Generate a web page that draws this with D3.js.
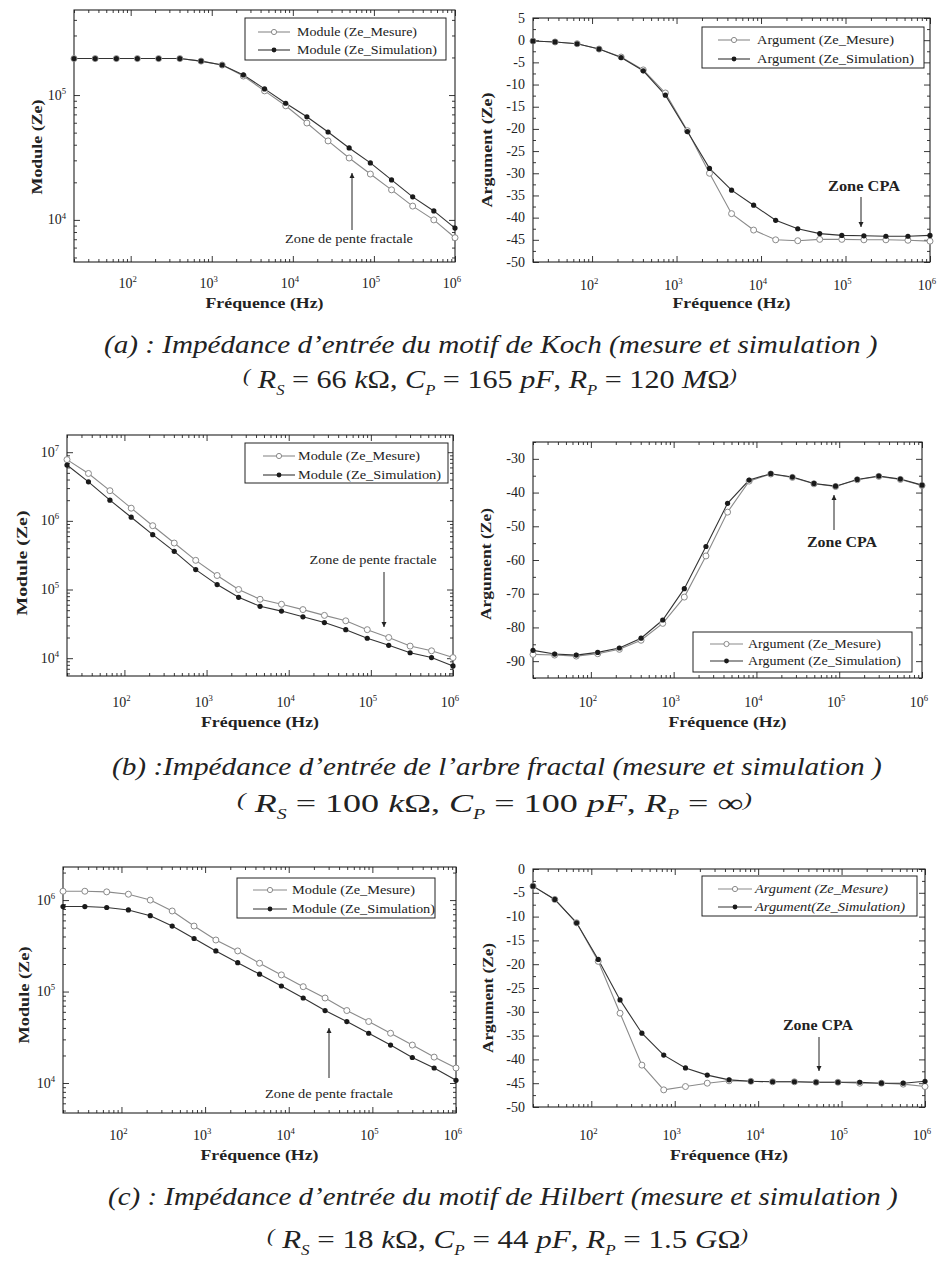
<!DOCTYPE html>
<html><head><meta charset="utf-8">
<script src="https://cdn.jsdelivr.net/npm/d3@7"></script>
<style>
html,body{margin:0;padding:0;background:#fff;}
svg{display:block;}
text{font-family:"Liberation Serif","Times New Roman",Times,serif;fill:#222;}
</style></head><body>
<svg id="fig" width="943" height="1262"></svg>
<script>
// ---------------- data ----------------
const frequency = [20, 36.5, 66.6, 121, 221, 404, 738, 1345, 2455, 4480, 8170, 14900, 27200, 49500, 90400, 165000, 300600, 548000, 1000000];

const kochModuleMesure     = [1.96e5, 1.96e5, 1.96e5, 1.96e5, 1.96e5, 1.96e5, 1.87e5, 1.74e5, 1.42e5, 1.08e5, 8.2e4, 5.97e4, 4.29e4, 3.13e4, 2.33e4, 1.74e4, 1.29e4, 1.0e4, 7.2e3];
const kochModuleSimulation = [1.96e5, 1.96e5, 1.96e5, 1.96e5, 1.96e5, 1.96e5, 1.87e5, 1.74e5, 1.45e5, 1.12e5, 8.6e4, 6.7e4, 5.06e4, 3.77e4, 2.86e4, 2.09e4, 1.53e4, 1.18e4, 8.6e3];
const kochArgumentMesure     = [-0.2, -0.4, -0.8, -2.0, -3.8, -6.7, -11.9, -20.4, -30.0, -39.1, -42.8, -45.0, -45.2, -44.9, -44.9, -45.0, -45.0, -45.1, -45.3];
const kochArgumentSimulation = [-0.2, -0.4, -0.8, -2.0, -3.9, -6.9, -12.4, -20.6, -28.9, -33.8, -37.2, -40.6, -42.5, -43.6, -44.0, -44.1, -44.2, -44.2, -44.0];

const arbreModuleMesure     = [7.8e6, 4.9e6, 2.75e6, 1.53e6, 8.5e5, 4.75e5, 2.66e5, 1.6e5, 1.0e5, 7.2e4, 6.1e4, 5.1e4, 4.2e4, 3.5e4, 2.6e4, 2.0e4, 1.5e4, 1.28e4, 1.02e4];
const arbreModuleSimulation = [6.5e6, 3.7e6, 2.0e6, 1.13e6, 6.3e5, 3.6e5, 1.95e5, 1.18e5, 7.7e4, 5.7e4, 4.85e4, 4.0e4, 3.3e4, 2.6e4, 1.95e4, 1.54e4, 1.2e4, 1.02e4, 7.7e3];
const arbreArgumentMesure     = [-88.0, -88.2, -88.5, -87.8, -86.5, -83.8, -78.8, -71.0, -58.8, -45.8, -36.6, -34.5, -35.5, -37.4, -38.2, -36.2, -35.2, -36.1, -37.9];
const arbreArgumentSimulation = [-86.8, -87.9, -88.2, -87.4, -86.1, -83.2, -77.8, -68.5, -56.0, -43.2, -36.3, -34.4, -35.4, -37.3, -38.1, -36.1, -35.1, -36.0, -37.8];

const hilbertModuleMesure     = [1.25e6, 1.25e6, 1.23e6, 1.16e6, 1.0e6, 7.6e5, 5.2e5, 3.66e5, 2.78e5, 2.04e5, 1.52e5, 1.13e5, 8.5e4, 6.2e4, 4.7e4, 3.5e4, 2.6e4, 1.92e4, 1.46e4];
const hilbertModuleSimulation = [8.5e5, 8.5e5, 8.3e5, 7.8e5, 6.75e5, 5.2e5, 3.8e5, 2.78e5, 2.07e5, 1.55e5, 1.15e5, 8.5e4, 6.2e4, 4.7e4, 3.5e4, 2.6e4, 1.9e4, 1.46e4, 1.07e4];
const hilbertArgumentMesure     = [-3.6, -6.4, -11.3, -19.4, -30.3, -41.2, -46.4, -45.7, -45.0, -44.5, -44.6, -44.7, -44.7, -44.8, -44.8, -45.0, -45.0, -45.2, -45.7];
const hilbertArgumentSimulation = [-3.6, -6.4, -11.3, -19.0, -27.5, -34.5, -39.1, -41.8, -43.3, -44.3, -44.6, -44.7, -44.7, -44.8, -44.8, -44.8, -45.0, -45.0, -44.6];

// tick labels
const frequencyTicks = [1e2, 1e3, 1e4, 1e5, 1e6];
const kochModuleTicks = [1e4, 1e5];
const arbreModuleTicks = [1e4, 1e5, 1e6, 1e7];
const hilbertModuleTicks = [1e4, 1e5, 1e6];
const kochArgumentTicks = [5, 0, -5, -10, -15, -20, -25, -30, -35, -40, -45, -50];
const arbreArgumentTicks = [-30, -40, -50, -60, -70, -80, -90];
const hilbertArgumentTicks = [0, -5, -10, -15, -20, -25, -30, -35, -40, -45, -50];

// texts
const legendModule = ["Module (Ze_Mesure)", "Module (Ze_Simulation)"];
const legendArgument = ["Argument (Ze_Mesure)", "Argument (Ze_Simulation)"];
const legendArgumentHilbert = ["Argument (Ze_Mesure)", "Argument(Ze_Simulation)"];
const xAxisTitle = "Fréquence (Hz)";
const moduleTitle = "Module (Ze)";
const argumentTitle = "Argument (Ze)";
const annotationFractal = "Zone de pente fractale";
const annotationCPA = "Zone CPA";
const captionTitles = [
  "(a) : Impédance d’entrée du motif de Koch (mesure et simulation )",
  "(b) :Impédance d’entrée de l’arbre fractal (mesure et simulation )",
  "(c) : Impédance d’entrée du motif de Hilbert (mesure et simulation )"
];

// ---------------- drawing ----------------
const svg = d3.select("#fig");
const INK = "#222";
const GREY = "#8a8a8a";

svg.append("defs").append("marker")
  .attr("id", "arrow").attr("viewBox", "0 0 10 10").attr("refX", 10).attr("refY", 5)
  .attr("markerWidth", 5).attr("markerHeight", 8).attr("markerUnits", "userSpaceOnUse")
  .attr("orient", "auto")
  .append("path").attr("d", "M0,0 L10,5 L0,10 z").attr("fill", INK);

const panels = [
  {box:[74,10,455,262], log:true, ydom:[4.6e3,4.8e5], yticks:kochModuleTicks, mes:kochModuleMesure, sim:kochModuleSimulation,
   ytitle:moduleTitle, ytx:37, yty:147, ytl:95, tickY:288, xtitleY:308,
   legend:{box:[245,18,446,60], sx:[258,290], tx:297, rows:[32,50], labels:legendModule, lens:[120,140], italic:false},
   annot:{text:annotationFractal, tx:349, ty:243, len:128, size:12, ax:352, a1:230, a2:173}},
  {box:[533,18,930,262], log:false, ydom:[-50,5], yticks:kochArgumentTicks, minor:2.5, mes:kochArgumentMesure, sim:kochArgumentSimulation,
   ytitle:argumentTitle, ytx:487, yty:150, ytl:115, tickY:290, xtitleY:308,
   legend:{box:[702,27,924,68], sx:[718,750], tx:757, rows:[40,59], labels:legendArgument, lens:[137,157], italic:false},
   annot:{text:annotationCPA, tx:864, ty:191, len:72, size:15, ax:861, a1:197, a2:227}},
  {box:[67,435,453,676], log:true, ydom:[5.5e3,1.78e7], yticks:arbreModuleTicks, mes:arbreModuleMesure, sim:arbreModuleSimulation,
   ytitle:moduleTitle, ytx:22, yty:563, ytl:105, tickY:707, xtitleY:727,
   legend:{box:[245,443,448,483], sx:[263,295], tx:298, rows:[456,475], labels:legendModule, lens:[122,143], italic:false},
   annot:{text:annotationFractal, tx:373, ty:564, len:127, size:12, ax:384, a1:572, a2:627}},
  {box:[533,442,922,678], log:false, ydom:[-95,-25], yticks:arbreArgumentTicks, minor:5, mes:arbreArgumentMesure, sim:arbreArgumentSimulation,
   ytitle:argumentTitle, ytx:486, yty:564, ytl:112, tickY:707, xtitleY:727,
   legend:{box:[693,632,912,672], sx:[710,743], tx:748, rows:[644,661], labels:legendArgument, lens:[133,153], italic:false},
   annot:{text:annotationCPA, tx:842, ty:547, len:70, size:15, ax:834, a1:530, a2:495}},
  {box:[63,867,456,1113], log:true, ydom:[4.7e3,2.3e6], yticks:hilbertModuleTicks, mes:hilbertModuleMesure, sim:hilbertModuleSimulation,
   ytitle:moduleTitle, ytx:24, yty:995, ytl:97, tickY:1140, xtitleY:1160,
   legend:{box:[237,878,435,918], sx:[253,287], tx:292, rows:[890,909], labels:legendModule, lens:[123,143], italic:false},
   annot:{text:annotationFractal, tx:329, ty:1098, len:128, size:12, ax:329, a1:1078, a2:1028}},
  {box:[533,869,925,1107], log:false, ydom:[-50,0], yticks:hilbertArgumentTicks, minor:2.5, mes:hilbertArgumentMesure, sim:hilbertArgumentSimulation,
   ytitle:argumentTitle, ytx:488, yty:998, ytl:110, tickY:1140, xtitleY:1160,
   legend:{box:[702,876,917,916], sx:[718,752], tx:755, rows:[889,907], labels:legendArgumentHilbert, lens:[133,150], italic:true},
   annot:{text:annotationCPA, tx:818, ty:1030, len:70, size:15, ax:819, a1:1037, a2:1071}}
];

function isPow10(v){ const l = Math.log10(v); return Math.abs(l - Math.round(l)) < 1e-9; }
function pow10(sel, v, size){
  sel.append("tspan").text("10");
  sel.append("tspan").attr("font-size", size*0.62).attr("dy", -size*0.42).text(Math.round(Math.log10(v)));
}

function styleAxis(g){
  g.select(".domain").remove();
  g.selectAll(".tick line").attr("stroke", INK).attr("stroke-width", 0.9);
  g.selectAll(".tick text").remove();
}

function drawPanel(p){
  const [x0,y0,x1,y1] = p.box;
  const x = d3.scaleLog().domain([20, 1e6]).range([x0, x1]);
  const y = (p.log ? d3.scaleLog() : d3.scaleLinear()).domain(p.ydom).range([y1, y0]);
  const g = svg.append("g");

  const xMinor = x.ticks().filter(v => !isPow10(v));
  let yMinor;
  if (p.log) yMinor = y.ticks().filter(v => !isPow10(v));
  else yMinor = d3.range(p.ydom[0], p.ydom[1] + 1e-9, p.minor).filter(v => !p.yticks.includes(v));

  const M = -6, m = -3;
  const axes = [
    [d3.axisBottom(x).tickValues(frequencyTicks).tickSize(M), `translate(0,${y1})`],
    [d3.axisBottom(x).tickValues(xMinor).tickSize(m), `translate(0,${y1})`],
    [d3.axisTop(x).tickValues(frequencyTicks).tickSize(M), `translate(0,${y0})`],
    [d3.axisTop(x).tickValues(xMinor).tickSize(m), `translate(0,${y0})`],
    [d3.axisLeft(y).tickValues(p.yticks).tickSize(M), `translate(${x0},0)`],
    [d3.axisLeft(y).tickValues(yMinor).tickSize(m), `translate(${x0},0)`],
    [d3.axisRight(y).tickValues(p.yticks).tickSize(M), `translate(${x1},0)`],
    [d3.axisRight(y).tickValues(yMinor).tickSize(m), `translate(${x1},0)`]
  ];
  axes.forEach(([ax, tr]) => g.append("g").attr("transform", tr).call(ax.tickFormat(() => "")).call(styleAxis));

  g.append("rect").attr("x", x0).attr("y", y0).attr("width", x1 - x0).attr("height", y1 - y0)
    .attr("fill", "none").attr("stroke", INK).attr("stroke-width", 1.1);

  // x tick labels
  const fs = 14;
  frequencyTicks.forEach(v => {
    const t = g.append("text").attr("x", x(v) - 3).attr("y", p.tickY).attr("font-size", fs).attr("text-anchor", "middle").attr("fill", "#111");
    pow10(t, v, fs);
  });
  // y tick labels
  p.yticks.forEach(v => {
    const t = g.append("text").attr("x", x0 - 8).attr("y", y(v) + 4.5).attr("font-size", fs).attr("text-anchor", "end").attr("fill", "#111");
    if (p.log) pow10(t, v, fs); else t.text(String(v));
  });

  // axis titles
  g.append("text").attr("x", (x0 + x1) / 2).attr("y", p.xtitleY).attr("text-anchor", "middle")
    .attr("font-size", 15).attr("font-weight", "bold").attr("textLength", 118).attr("lengthAdjust", "spacingAndGlyphs")
    .text(xAxisTitle);
  g.append("text").attr("transform", `translate(${p.ytx},${p.yty}) rotate(-90)`).attr("text-anchor", "middle").attr("dy", "0.35em")
    .attr("font-size", 15).attr("font-weight", "bold").attr("textLength", p.ytl).attr("lengthAdjust", "spacingAndGlyphs")
    .text(p.ytitle);

  // curves
  const line = d3.line().x((d, i) => x(frequency[i])).y(d => y(d));
  const plot = g.append("g");
  plot.append("path").datum(p.mes).attr("d", line).attr("fill", "none").attr("stroke", GREY).attr("stroke-width", 1.1);
  plot.append("path").datum(p.sim).attr("d", line).attr("fill", "none").attr("stroke", "#333").attr("stroke-width", 1.1);
  plot.selectAll("circle.mes").data(p.mes).enter().append("circle").attr("class", "mes")
    .attr("cx", (d, i) => x(frequency[i])).attr("cy", d => y(d)).attr("r", 3)
    .attr("fill", "#fff").attr("stroke", GREY).attr("stroke-width", 1);
  plot.selectAll("circle.sim").data(p.sim).enter().append("circle").attr("class", "sim")
    .attr("cx", (d, i) => x(frequency[i])).attr("cy", d => y(d)).attr("r", 2.6)
    .attr("fill", "#1a1a1a");

  // legend
  const L = p.legend;
  const lg = g.append("g");
  lg.append("rect").attr("x", L.box[0]).attr("y", L.box[1]).attr("width", L.box[2] - L.box[0]).attr("height", L.box[3] - L.box[1])
    .attr("fill", "#fff").attr("stroke", INK).attr("stroke-width", 1);
  L.rows.forEach((ry, i) => {
    const mid = (L.sx[0] + L.sx[1]) / 2;
    lg.append("line").attr("x1", L.sx[0]).attr("x2", L.sx[1]).attr("y1", ry).attr("y2", ry)
      .attr("stroke", i === 0 ? GREY : "#333").attr("stroke-width", 1.1);
    if (i === 0) lg.append("circle").attr("cx", mid).attr("cy", ry).attr("r", 2.6).attr("fill", "#fff").attr("stroke", GREY);
    else lg.append("circle").attr("cx", mid).attr("cy", ry).attr("r", 2.4).attr("fill", "#1a1a1a");
    lg.append("text").attr("x", L.tx).attr("y", ry + 4).attr("font-size", 12.5)
      .attr("font-style", L.italic ? "italic" : "normal")
      .attr("textLength", L.lens[i]).attr("lengthAdjust", "spacingAndGlyphs").attr("fill", "#333")
      .text(L.labels[i]);
  });

  // annotation
  const A = p.annot;
  g.append("text").attr("x", A.tx).attr("y", A.ty).attr("text-anchor", "middle").attr("font-size", A.size)
    .attr("textLength", A.len).attr("lengthAdjust", "spacingAndGlyphs")
    .attr("font-weight", A.size > 13 ? "bold" : "normal").attr("fill", "#333").text(A.text);
  g.append("line").attr("x1", A.ax).attr("x2", A.ax).attr("y1", A.a1).attr("y2", A.a2)
    .attr("stroke", INK).attr("stroke-width", 1).attr("marker-end", "url(#arrow)");
}

panels.forEach(drawPanel);

// ---------------- captions ----------------
function fitText(parts, x0, x1, baseline, size){
  const g = svg.append("g");
  const t = g.append("text").attr("x", 0).attr("y", 0).attr("font-size", size).attr("fill", "#2a2a2a");
  let pending = 0;
  parts.forEach(pt => {
    const s = t.append("tspan").text(pt.t);
    if (pt.i) s.attr("font-style", "italic");
    let dy = pending; pending = 0;
    if (pt.sub) { s.attr("font-size", size * 0.55); dy += size * 0.28; pending = -size * 0.28; }
    if (pt.paren) { s.attr("font-size", size * 0.72).attr("font-style", "italic"); dy += -size * 0.22; pending = size * 0.22; }
    if (dy !== 0) s.attr("dy", dy);
  });
  const w = t.node().getComputedTextLength();
  g.attr("transform", `translate(${x0},${baseline}) scale(${(x1 - x0) / w},1)`);
}

const I = s => ({t: s, i: true});
const N = s => ({t: s});
const S = s => ({t: s, i: true, sub: true});
const P = s => ({t: s, paren: true});

fitText([I(captionTitles[0])], 104, 878, 353, 26);
fitText([P("("), N(" "), I("R"), S("S"), N(" = 66 "), I("k"), N("Ω, "), I("C"), S("P"), N(" = 165 "), I("pF"), N(", "), I("R"), S("P"), N(" = 120 "), I("M"), N("Ω"), P(")")], 243, 737, 388, 26);

fitText([I(captionTitles[1])], 112, 882, 775, 26);
fitText([P("("), N(" "), I("R"), S("S"), N(" = 100 "), I("k"), N("Ω, "), I("C"), S("P"), N(" = 100 "), I("pF"), N(", "), I("R"), S("P"), N(" = ∞"), P(")")], 237, 752, 812, 26);

fitText([I(captionTitles[2])], 108, 898, 1205, 26);
fitText([P("("), N(" "), I("R"), S("S"), N(" = 18 "), I("k"), N("Ω,  "), I("C"), S("P"), N(" = 44 "), I("pF"), N(", "), I("R"), S("P"), N(" = 1.5 "), I("G"), N("Ω"), P(")")], 267, 748, 1248, 26);
</script></body></html>
